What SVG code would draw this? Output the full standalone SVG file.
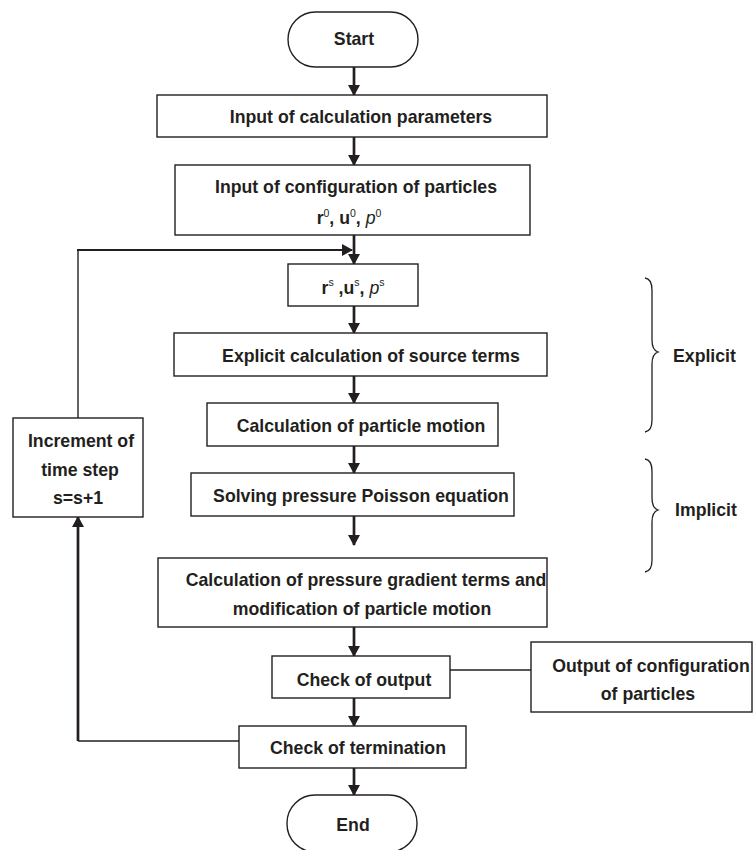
<svg xmlns="http://www.w3.org/2000/svg" width="753" height="850" viewBox="0 0 753 850">
<style>
.box{fill:#fff;stroke:#231f20;stroke-width:1.4}
.t{font-family:"Liberation Sans",Arial,sans-serif;font-weight:bold;font-size:17.7px;fill:#231f20;text-anchor:middle}
.lbl{font-family:"Liberation Sans",Arial,sans-serif;font-weight:bold;font-size:17.7px;fill:#231f20}
.sup{font-size:10.5px;font-weight:normal}
.it{font-style:italic;font-weight:normal}
.ar{fill:none;stroke:#231f20;stroke-width:2.7;marker-end:url(#ah)}
.thin{fill:none;stroke:#231f20;stroke-width:1.4}
.brace{fill:none;stroke:#231f20;stroke-width:1.3}
</style>
<defs>
<marker id="ah" markerUnits="userSpaceOnUse" markerWidth="12" markerHeight="12" refX="10" refY="6" orient="auto">
<path d="M0,0 L11,6 L0,12 Z" fill="#231f20"/>
</marker>
</defs>
<rect width="753" height="850" fill="#fff"/>
<g id="connectors">
<path class="ar" d="M354,67 V95"/>
<path class="ar" d="M354,137 V165"/>
<path class="ar" d="M354,235 V264"/>
<path class="ar" d="M354,306 V333"/>
<path class="ar" d="M354,376 V403"/>
<path class="ar" d="M354,446 V473"/>
<path class="ar" d="M354,516 V545"/>
<path class="ar" d="M354,627 V656"/>
<path class="ar" d="M354,698 V726"/>
<path class="ar" d="M354,768 V795"/>
<path class="thin" d="M450,670 H531"/>
<path class="thin" d="M239,741 H78"/>
<path class="ar" d="M78,741 V517"/>
<path class="thin" d="M78,418 V250"/>
<path class="ar" style="stroke-width:2" d="M77,250 H352"/>
</g>
<g id="start">
<rect class="box" x="288" y="12" width="130" height="55" rx="27.5" ry="27.5"/>
<text class="t" x="354" y="45">Start</text>
</g>
<g id="input-params">
<rect class="box" x="157" y="95" width="390" height="42"/>
<text class="t" x="361" y="123">Input of calculation parameters</text>
</g>
<g id="input-config">
<rect class="box" x="175" y="165" width="355" height="70"/>
<text class="t" x="356" y="193">Input of configuration of particles</text>
<text class="t" x="349" y="224">r<tspan class="sup" dy="-7">0</tspan><tspan dy="7">, u</tspan><tspan class="sup" dy="-7">0</tspan><tspan dy="7">, </tspan><tspan class="it">p</tspan><tspan class="sup" dy="-7">0</tspan></text>
</g>
<g id="state">
<rect class="box" x="288" y="264" width="130" height="42"/>
<text class="t" x="353" y="294">r<tspan class="sup" dy="-8">s</tspan><tspan dy="8"> ,u</tspan><tspan class="sup" dy="-8">s</tspan><tspan dy="8">, </tspan><tspan class="it">p</tspan><tspan class="sup" dy="-8">s</tspan></text>
</g>
<g id="explicit-source">
<rect class="box" x="174" y="333" width="373" height="43"/>
<text class="t" x="371" y="362">Explicit calculation of source terms</text>
</g>
<g id="particle-motion">
<rect class="box" x="207" y="403" width="291" height="43"/>
<text class="t" x="361" y="432">Calculation of particle motion</text>
</g>
<g id="poisson">
<rect class="box" x="191" y="473" width="323" height="43"/>
<text class="t" x="361" y="502">Solving pressure Poisson equation</text>
</g>
<g id="pressure-gradient">
<rect class="box" x="158" y="558" width="389" height="69"/>
<text class="t" x="366" y="586">Calculation of pressure gradient terms and</text>
<text class="t" x="362" y="615">modification of particle motion</text>
</g>
<g id="check-output">
<rect class="box" x="272" y="656" width="178" height="42"/>
<text class="t" x="364" y="686">Check of output</text>
</g>
<g id="output-config">
<rect class="box" x="531" y="642" width="221" height="70"/>
<text class="t" x="651" y="672">Output of configuration</text>
<text class="t" x="648" y="700">of particles</text>
</g>
<g id="check-termination">
<rect class="box" x="239" y="726" width="227" height="42"/>
<text class="t" x="358" y="754">Check of termination</text>
</g>
<g id="end">
<rect class="box" x="287" y="795" width="130" height="57" rx="28" ry="28"/>
<text class="t" x="353" y="831">End</text>
</g>
<g id="increment">
<rect class="box" x="13" y="418" width="130" height="99"/>
<text class="t" x="81" y="447">Increment of</text>
<text class="t" x="80" y="476">time step</text>
<text class="t" x="78" y="504">s=s+1</text>
</g>
<g id="explicit-brace">
<path class="brace" d="M645,278 Q652,279 652,290 V340 Q652,350 658,352 Q652,354 652,364 V420 Q652,431 645,432"/>
<text class="lbl" x="673" y="362">Explicit</text>
</g>
<g id="implicit-brace">
<path class="brace" d="M645,459 Q652,460 652,471 V498 Q652,508 658,510 Q652,512 652,522 V560 Q652,571 645,572"/>
<text class="lbl" x="675" y="516">Implicit</text>
</g>
</svg>
